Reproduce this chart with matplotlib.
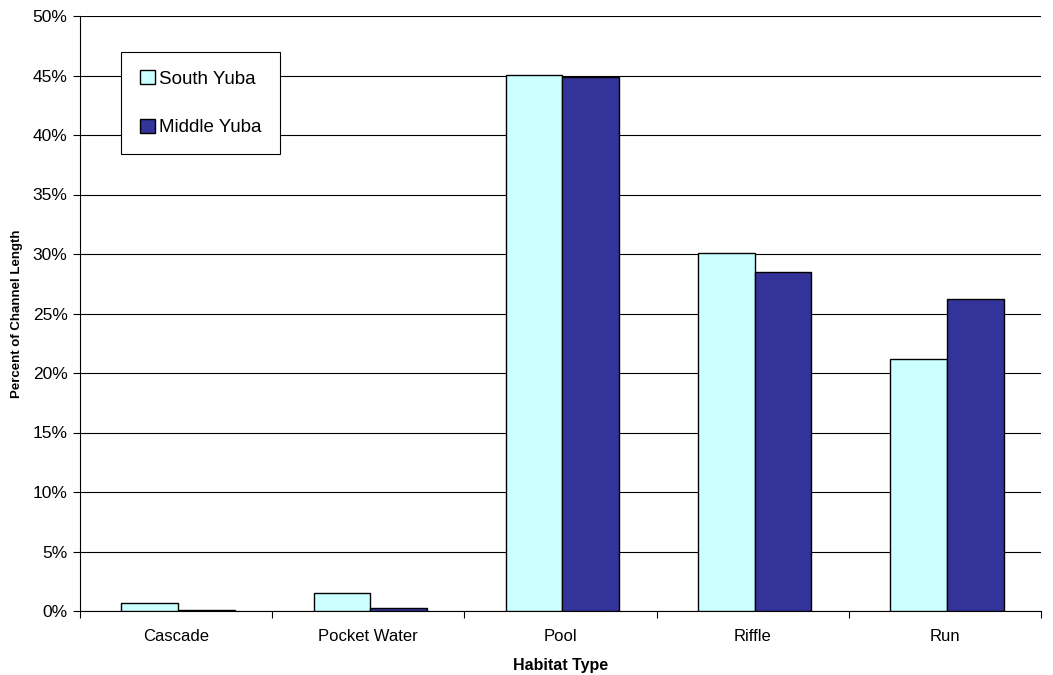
import numpy as np
from matplotlib import pyplot as plt
from matplotlib.ticker import PercentFormatter, FixedLocator

# Chart data.
habitats = ["Cascade", "Pocket Water", "Pool", "Riffle", "Run"]
south_yuba = [0.7, 1.5, 45.05, 30.1, 21.15]
middle_yuba = [0.1, 0.25, 44.85, 28.5, 26.25]

plt.rcParams['font.family'] = ['Liberation Sans', 'DejaVu Sans']

fig = plt.figure(figsize=(10.53, 6.75), dpi=100)
ax = fig.add_axes([80/1053, 1 - 611/675, 961/1053, 595/675])

x = np.arange(len(habitats))
w = 0.295
ax.bar(x - w/2 + 0.01, south_yuba, w, color='#ccffff', edgecolor='black', linewidth=1.0,
       label='South Yuba', zorder=3)
ax.bar(x + w/2 + 0.01, middle_yuba, w, color='#333399', edgecolor='black', linewidth=1.0,
       label='Middle Yuba', zorder=3)

ax.set_xlim(-0.5, len(habitats) - 0.5)
ax.set_ylim(0, 50)
ax.set_yticks(np.arange(0, 51, 5))
ax.yaxis.set_major_formatter(PercentFormatter(decimals=0))
ax.yaxis.grid(True, color='black', linewidth=0.8, zorder=0)

ax.set_xticks(x)
ax.set_xticklabels(habitats)
ax.tick_params(axis='x', length=0, labelsize=12, pad=13)
ax.xaxis.set_minor_locator(FixedLocator(np.arange(-0.5, len(habitats), 1.0)))
ax.tick_params(axis='x', which='minor', length=5, width=0.8)
ax.tick_params(axis='y', length=5, width=0.8, labelsize=12.5, pad=4)

for s in ['top', 'right']:
    ax.spines[s].set_visible(False)
for s in ['left', 'bottom']:
    ax.spines[s].set_linewidth(0.8)

ax.set_xlabel("Habitat Type", fontsize=11.5, fontweight='bold', labelpad=10)
ax.set_ylabel("Percent of Channel Length", fontsize=9.5, fontweight='bold', labelpad=7)

leg = ax.legend(loc='upper left', bbox_to_anchor=(0.043, 0.94), fontsize=13.5,
                frameon=True, fancybox=False, edgecolor='black', framealpha=1,
                handlelength=0.85, handleheight=0.8, handletextpad=0.2,
                labelspacing=1.65, borderpad=0.97, borderaxespad=0)
leg.get_frame().set_linewidth(0.8)

fig.savefig("out.png", dpi=100)
